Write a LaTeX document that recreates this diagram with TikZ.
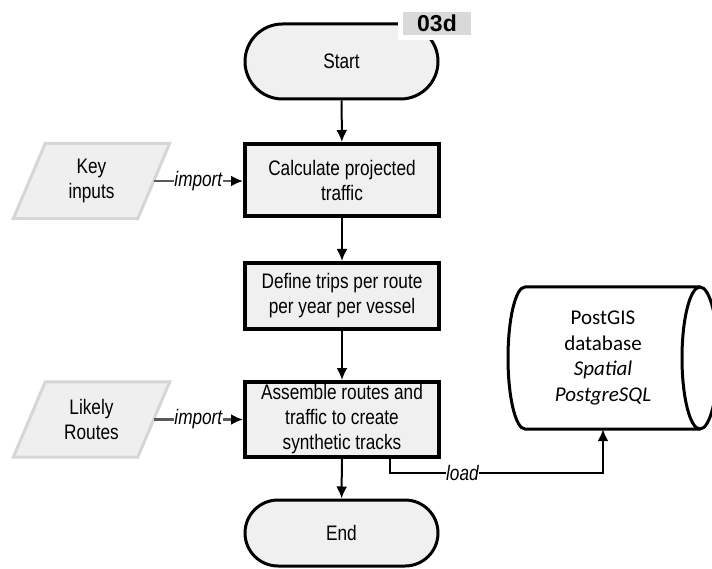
\documentclass[tikz,border=0pt]{standalone}
\usepackage{fontspec}
\setmainfont{Liberation Sans}[FakeStretch=0.82]
\newfontfamily\dbfont{Carlito}
\newfontfamily\tagfont{Liberation Sans}
\usetikzlibrary{arrows.meta,calc}
\definecolor{boxfill}{HTML}{F0F0F0}
\definecolor{inputfill}{HTML}{EFEFEF}
\definecolor{inputline}{HTML}{D6D6D6}
\definecolor{tagfill}{HTML}{D9D9D9}
\definecolor{importgray}{HTML}{5A5A5A}
\begin{document}
\begin{tikzpicture}[x=1pt,y=-1pt,
  txt/.style={font=\fontsize{21}{25}\selectfont, align=center},
  terminal/.style={txt, draw, line width=3pt, fill=boxfill, minimum width=193pt},
  process/.style={txt, draw, line width=4pt, fill=boxfill, minimum width=194pt, inner sep=0pt},
  inputbox/.style={txt, minimum width=124pt, minimum height=75pt, inner sep=0pt},
  inputshape/.style={draw=inputline, line width=3pt, fill=inputfill},
  flow/.style={line width=2pt, -{Latex[length=12pt,width=11pt,color=black,fill=black]}},
  importflow/.style={flow, draw=importgray, line width=2.5pt},
  lbl/.style={font=\itshape\fontsize{21}{25}\selectfont, fill=white, inner sep=0.5pt},
  dbtext/.style={font=\dbfont\fontsize{21}{25.5}\selectfont, align=center, minimum height=142pt, inner sep=0pt},
  tagbox/.style={font=\tagfont\bfseries\fontsize{23}{23}\selectfont, fill=tagfill, minimum width=68pt, minimum height=23pt, inner sep=0pt, preaction={draw=white, line width=10pt}}
]
\fill[white] (0,0) rectangle (712,569);
\useasboundingbox (0,0) rectangle (712,569);

% main flow
\node[terminal, minimum height=75pt, rounded corners=37.5pt] (start) at (341.5,61.5) {Start};
\node[tagbox] (tag) at (437,23.5) {03d};
\node[process, minimum height=72pt] (calc) at (342,180) {Calculate projected\\traffic};
\node[process, minimum height=66pt] (trips) at (342,296) {Define trips per route\\per year per vessel};
\node[process, minimum height=75pt] (assemble) at (342,419.5) {Assemble routes and\\traffic to create\\synthetic tracks};
\node[terminal, minimum height=66pt, rounded corners=33pt] (end) at (341.5,533) {End};

% input parallelograms
\node[inputbox] (key) at (91.5,181) {};
\draw[inputshape] ($(key.south west)+(-16,0)$) -- ($(key.south east)+(-16,0)$)
  -- ($(key.north east)+(16,0)$) -- ($(key.north west)+(16,0)$) -- cycle;
\node[inputbox] at (key) {Key\\inputs};

\node[inputbox] (routes) at (91.5,419.5) {};
\draw[inputshape] ($(routes.south west)+(-16,0)$) -- ($(routes.south east)+(-16,0)$)
  -- ($(routes.north east)+(16,0)$) -- ($(routes.north west)+(16,0)$) -- cycle;
\node[inputbox] at (routes) {Likely\\Routes};

% database cylinder
\draw[line width=3pt] (700,287) -- (525,287)
  arc[start angle=270, end angle=90, x radius=17, y radius=71] -- (700,429);
\draw[line width=3pt] (700,358) ellipse[x radius=18, y radius=71];
\node[dbtext] (db) at (603,358) {PostGIS\\database\\\textit{Spatial}\\\textit{PostgreSQL}};

% connectors
\draw[flow] (start) -- (calc);
\draw[flow] (calc) -- (trips);
\draw[flow] (trips) -- (assemble);
\draw[flow] (assemble) -- (end);
\draw[importflow] (key.east) -- node[lbl] {import} (key.east -| calc.west);
\draw[importflow] (routes.east) -- node[lbl] {import} (routes.east -| assemble.west);

\coordinate (loadA) at ([xshift=48pt]assemble.south);
\coordinate (loadB) at ($(loadA)+(0,14)$);
\coordinate (loadC) at (loadB -| db.south);
\draw[flow] (loadA) -- (loadB) -- node[lbl, pos=0.34] {load} (loadC) -- (db.south);
\end{tikzpicture}
\end{document}
